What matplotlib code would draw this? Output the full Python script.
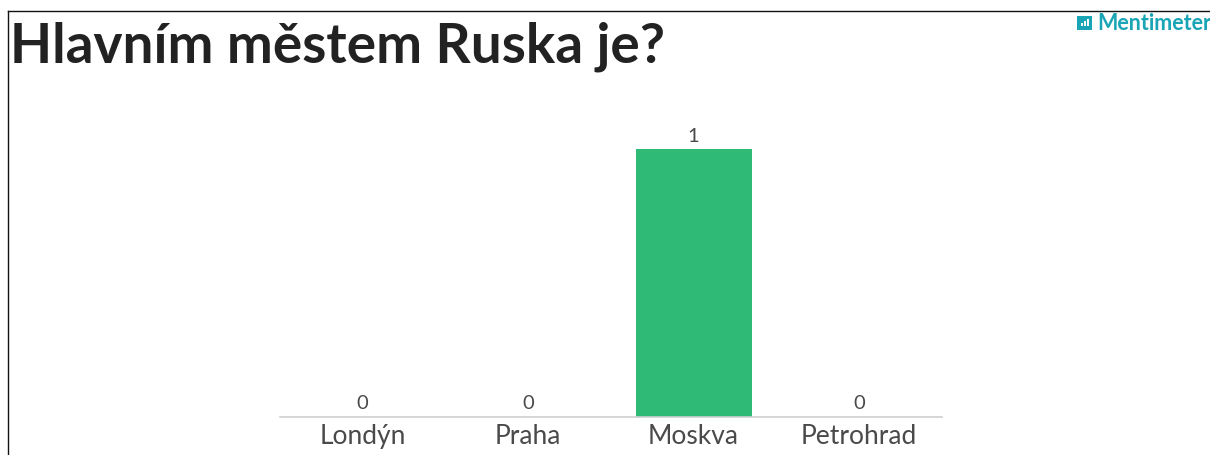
import matplotlib
matplotlib.use("Agg")
import matplotlib.pyplot as plt
from matplotlib.patches import Rectangle

categories = ["Londýn", "Praha", "Moskva", "Petrohrad"]
votes = [0, 0, 1, 0]
title = "Hlavním městem Ruska je?"
brand = "Mentimeter"

W, H = 1210, 455
plt.rcParams['font.family'] = ['Lato', 'DejaVu Sans']

fig = plt.figure(figsize=(W / 100, H / 100), dpi=100)

# bar area, pixel box converted to figure fractions
ax = fig.add_axes([279.5 / W, 1 - 416.5 / H, (942 - 279.5) / W, (416.5 - 149) / H])
positions = range(len(categories))
ax.bar(positions, votes, width=0.7, color="#2fba75")
ax.set_xlim(-0.5, 3.5)
ax.set_ylim(0, 1)
ax.set_yticks([])
ax.set_xticks(list(positions))
ax.set_xticklabels(categories, fontsize=19, color="#4a4a4a")
ax.tick_params(axis="x", length=0, pad=5.5)
for side in ["top", "left", "right"]:
    ax.spines[side].set_visible(False)
ax.spines["bottom"].set_color("#cfcfcf")
ax.spines["bottom"].set_linewidth(1.2)

for x, v in zip(positions, votes):
    ax.annotate(str(v), (x, v), xytext=(0, 3), textcoords="offset points",
                ha="center", va="bottom", fontsize=14.5, color="#4a4a4a",
                annotation_clip=False)

# thin frame along the top and left edges
fig.add_artist(plt.Line2D([8 / W, 1], [1 - 10.5 / H, 1 - 10.5 / H], color="#111111", lw=1))
fig.add_artist(plt.Line2D([8 / W, 8 / W], [0, 1 - 10.5 / H], color="#111111", lw=1))

fig.text(10 / W, 1 - 63 / H, title, fontsize=39.5, fontweight="bold", color="#222222",
         ha="left", va="baseline")

# logo mark with its small white bars, then the wordmark
teal = "#19a5b5"
fig.add_artist(Rectangle((1077 / W, 1 - 30 / H), 15 / W, 14 / H, transform=fig.transFigure,
                         facecolor=teal, edgecolor="none"))
for bx, bh in [(1081, 3), (1084, 5), (1087, 7)]:
    fig.add_artist(Rectangle((bx / W, 1 - 26 / H), 2 / W, bh / H, transform=fig.transFigure,
                             facecolor="white", edgecolor="none"))
fig.text(1097 / W, 1 - 30 / H, brand, fontsize=15.5, fontweight="bold", color=teal,
         ha="left", va="baseline")

fig.savefig("out.png", dpi=100)
